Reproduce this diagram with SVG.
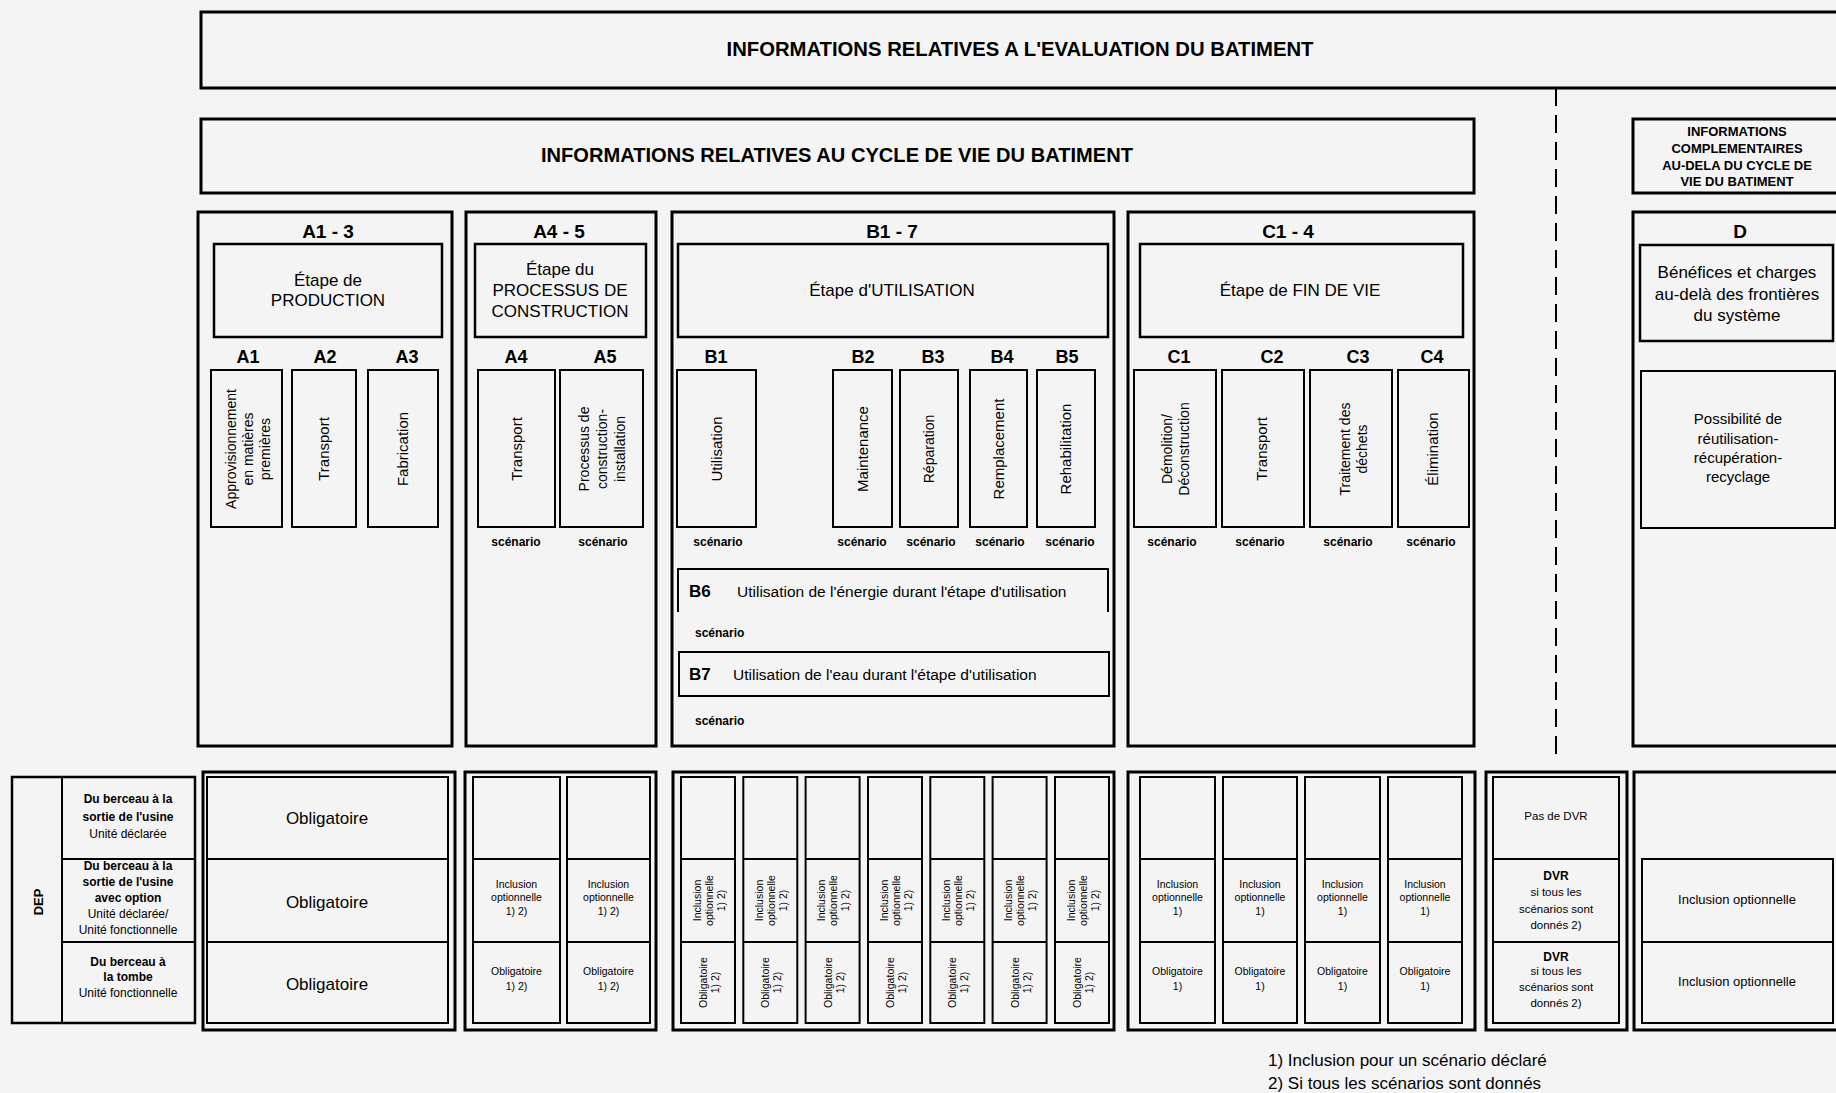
<svg xmlns="http://www.w3.org/2000/svg" width="1836" height="1093" viewBox="0 0 1836 1093">
<style>
text{font-family:"Liberation Sans",Arial,sans-serif;fill:#000}
.b3{fill:none;stroke:#000;stroke-width:3}
.b25{fill:none;stroke:#000;stroke-width:2.5}
.b2{fill:none;stroke:#000;stroke-width:2}
.ttl{font-size:19.5px;font-weight:bold;text-anchor:middle}
.inf{font-size:13px;font-weight:bold;text-anchor:middle}
.hd{font-size:19px;font-weight:bold;text-anchor:middle}
.lb{font-size:18px;font-weight:bold;text-anchor:middle}
.st{font-size:17px;text-anchor:middle}
.vt{font-size:15px;text-anchor:middle}
.vs{font-size:14px;text-anchor:middle}
.sc{font-size:12px;font-weight:bold;text-anchor:middle}
.scl{font-size:12px;font-weight:bold}
.bl{font-size:17px;font-weight:bold}
.bt{font-size:15.5px}
.ob{font-size:17px;text-anchor:middle}
.sm{font-size:10.5px;text-anchor:middle}
.dv{font-size:11.5px;text-anchor:middle}
.dvb{font-size:12px;font-weight:bold;text-anchor:middle}
.dep{font-size:12px;text-anchor:middle}
.depb{font-size:12px;font-weight:bold;text-anchor:middle}
.io{font-size:13px;text-anchor:middle}
.fn{font-size:17px}
</style>
<rect x="0" y="0" width="1836" height="1093" fill="#f4f4f4"/>

<g id="connectors">
<line x1="1556" y1="88" x2="1556" y2="762" stroke="#000" stroke-width="2" stroke-dasharray="18 9"/>
</g>

<g id="eval-header">
<rect class="b3" x="201" y="12" width="1650" height="76"/>
<text class="ttl" x="1020" y="56" textLength="587" lengthAdjust="spacingAndGlyphs">INFORMATIONS RELATIVES A L'EVALUATION DU BATIMENT</text>
</g>

<g id="lifecycle-header">
<rect class="b3" x="201" y="119" width="1273" height="74"/>
<text class="ttl" x="837" y="162" textLength="592" lengthAdjust="spacingAndGlyphs">INFORMATIONS RELATIVES AU CYCLE DE VIE DU BATIMENT</text>
</g>

<g id="complementary-header">
<rect class="b3" x="1633" y="119" width="212" height="74"/>
<text class="inf" x="1737" y="136">INFORMATIONS</text>
<text class="inf" x="1737" y="153">COMPLEMENTAIRES</text>
<text class="inf" x="1737" y="170">AU-DELA DU CYCLE DE</text>
<text class="inf" x="1737" y="186">VIE DU BATIMENT</text>
</g>

<!-- A1-3 -->
<g id="stage-A1-3">
<rect class="b3" x="198" y="212" width="254" height="534"/>
<text class="hd" x="328" y="238">A1 - 3</text>
<rect class="b25" x="214" y="244" width="228" height="93"/>
<text class="st" x="328" y="286">Étape de</text>
<text class="st" x="328" y="306">PRODUCTION</text>
<text class="lb" x="248" y="363">A1</text>
<text class="lb" x="325" y="363">A2</text>
<text class="lb" x="407" y="363">A3</text>
<rect class="b2" x="211" y="370" width="71" height="157"/>
<rect class="b2" x="292" y="370" width="64" height="157"/>
<rect class="b2" x="368" y="370" width="70" height="157"/>
<text class="vs" transform="translate(248,449) rotate(-90)"><tspan x="0" y="-12">Approvisionnement</tspan><tspan x="0" y="5">en matières</tspan><tspan x="0" y="22">premières</tspan></text>
<text class="vt" transform="translate(324,449) rotate(-90)"><tspan x="0" y="5">Transport</tspan></text>
<text class="vt" transform="translate(403,449) rotate(-90)"><tspan x="0" y="5">Fabrication</tspan></text>
</g>

<!-- A4-5 -->
<g id="stage-A4-5">
<rect class="b3" x="466" y="212" width="190" height="534"/>
<text class="hd" x="559" y="238">A4 - 5</text>
<rect class="b25" x="475" y="244" width="171" height="93"/>
<text class="st" x="560" y="275">Étape du</text>
<text class="st" x="560" y="296">PROCESSUS DE</text>
<text class="st" x="560" y="317">CONSTRUCTION</text>
<text class="lb" x="516" y="363">A4</text>
<text class="lb" x="605" y="363">A5</text>
<rect class="b2" x="478" y="370" width="77" height="157"/>
<rect class="b2" x="560" y="370" width="83" height="157"/>
<text class="vt" transform="translate(516.5,449) rotate(-90)"><tspan x="0" y="5">Transport</tspan></text>
<text class="vs" transform="translate(602,449) rotate(-90)"><tspan x="0" y="-13">Processus de</tspan><tspan x="0" y="5">construction-</tspan><tspan x="0" y="23">installation</tspan></text>
<text class="sc" x="516" y="546">scénario</text>
<text class="sc" x="603" y="546">scénario</text>
</g>

<!-- B1-7 -->
<g id="stage-B1-7">
<rect class="b3" x="672" y="212" width="442" height="534"/>
<text class="hd" x="892" y="238">B1 - 7</text>
<rect class="b25" x="678" y="244" width="430" height="93"/>
<text class="st" x="892" y="296">Étape d'UTILISATION</text>
<text class="lb" x="716" y="363">B1</text>
<text class="lb" x="863" y="363">B2</text>
<text class="lb" x="933" y="363">B3</text>
<text class="lb" x="1002" y="363">B4</text>
<text class="lb" x="1067" y="363">B5</text>
<rect class="b2" x="677" y="370" width="79" height="157"/>
<rect class="b2" x="833" y="370" width="59" height="157"/>
<rect class="b2" x="900" y="370" width="58" height="157"/>
<rect class="b2" x="970" y="370" width="57" height="157"/>
<rect class="b2" x="1037" y="370" width="58" height="157"/>
<text class="vt" transform="translate(716.5,449) rotate(-90)"><tspan x="0" y="5">Utilisation</tspan></text>
<text class="vt" transform="translate(862.5,449) rotate(-90)"><tspan x="0" y="5">Maintenance</tspan></text>
<text class="vs" transform="translate(929,449) rotate(-90)"><tspan x="0" y="5">Réparation</tspan></text>
<text class="vt" transform="translate(998.5,449) rotate(-90)"><tspan x="0" y="5">Remplacement</tspan></text>
<text class="vt" transform="translate(1066,449) rotate(-90)"><tspan x="0" y="5">Rehabilitation</tspan></text>
<text class="sc" x="718" y="546">scénario</text>
<text class="sc" x="862" y="546">scénario</text>
<text class="sc" x="931" y="546">scénario</text>
<text class="sc" x="1000" y="546">scénario</text>
<text class="sc" x="1070" y="546">scénario</text>
<path class="b2" d="M678,612 V569 H1108 V612"/>
<text class="bl" x="689" y="597">B6</text>
<text class="bt" x="737" y="597">Utilisation de l'énergie durant l'étape d'utilisation</text>
<text class="scl" x="695" y="637">scénario</text>
<rect class="b2" x="679" y="652" width="430" height="44"/>
<text class="bl" x="689" y="680">B7</text>
<text class="bt" x="733" y="680">Utilisation de l'eau durant l'étape d'utilisation</text>
<text class="scl" x="695" y="725">scénario</text>
</g>

<!-- C1-4 -->
<g id="stage-C1-4">
<rect class="b3" x="1128" y="212" width="346" height="534"/>
<text class="hd" x="1288" y="238">C1 - 4</text>
<rect class="b25" x="1140" y="244" width="323" height="93"/>
<text class="st" x="1300" y="296">Étape de FIN DE VIE</text>
<text class="lb" x="1179" y="363">C1</text>
<text class="lb" x="1272" y="363">C2</text>
<text class="lb" x="1358" y="363">C3</text>
<text class="lb" x="1432" y="363">C4</text>
<rect class="b2" x="1134" y="370" width="82" height="157"/>
<rect class="b2" x="1222" y="370" width="82" height="157"/>
<rect class="b2" x="1310" y="370" width="82" height="157"/>
<rect class="b2" x="1398" y="370" width="71" height="157"/>
<text class="vs" transform="translate(1176,449) rotate(-90)"><tspan x="0" y="-4">Démolition/</tspan><tspan x="0" y="13">Déconstruction</tspan></text>
<text class="vt" transform="translate(1262,449) rotate(-90)"><tspan x="0" y="5">Transport</tspan></text>
<text class="vs" transform="translate(1354,449) rotate(-90)"><tspan x="0" y="-4">Traitement des</tspan><tspan x="0" y="13">déchets</tspan></text>
<text class="vt" transform="translate(1433,449) rotate(-90)"><tspan x="0" y="5">Élimination</tspan></text>
<text class="sc" x="1172" y="546">scénario</text>
<text class="sc" x="1260" y="546">scénario</text>
<text class="sc" x="1348" y="546">scénario</text>
<text class="sc" x="1431" y="546">scénario</text>
</g>

<!-- D -->
<g id="stage-D">
<rect class="b3" x="1633" y="212" width="212" height="534"/>
<text class="hd" x="1740" y="238">D</text>
<rect class="b25" x="1640" y="245" width="193" height="96"/>
<text class="st" x="1737" y="278">Bénéfices et charges</text>
<text class="st" x="1737" y="300">au-delà des frontières</text>
<text class="st" x="1737" y="321">du système</text>
<rect class="b2" x="1641" y="371" width="194" height="157"/>
<text class="vt" x="1738" y="424">Possibilité de</text>
<text class="vt" x="1738" y="444">réutilisation-</text>
<text class="vt" x="1738" y="463">récupération-</text>
<text class="vt" x="1738" y="482">recyclage</text>
</g>

<!-- DEP table -->
<g id="dep-labels">
<rect class="b25" x="12" y="777" width="183" height="246"/>
<line class="b2" x1="62" y1="777" x2="62" y2="1023"/>
<line class="b2" x1="62" y1="859" x2="195" y2="859"/>
<line class="b2" x1="62" y1="942" x2="195" y2="942"/>
<text class="depb" transform="translate(38,902) rotate(-90)" style="font-size:13px"><tspan x="0" y="5">DEP</tspan></text>
<text class="depb" x="128" y="803">Du berceau à la</text>
<text class="depb" x="128" y="821">sortie de l'usine</text>
<text class="dep" x="128" y="838">Unité déclarée</text>
<text class="depb" x="128" y="870">Du berceau à la</text>
<text class="depb" x="128" y="886">sortie de l'usine</text>
<text class="depb" x="128" y="902">avec option</text>
<text class="dep" x="128" y="918">Unité déclarée/</text>
<text class="dep" x="128" y="934">Unité fonctionnelle</text>
<text class="depb" x="128" y="966">Du berceau à</text>
<text class="depb" x="128" y="981">la tombe</text>
<text class="dep" x="128" y="997">Unité fonctionnelle</text>
</g>

<g id="dep-A1-3">
<rect class="b3" x="203" y="772" width="252" height="258"/>
<rect class="b2" x="207" y="777" width="241" height="246"/>
<line class="b2" x1="207" y1="859" x2="448" y2="859"/>
<line class="b2" x1="207" y1="942" x2="448" y2="942"/>
<text class="ob" x="327" y="824">Obligatoire</text>
<text class="ob" x="327" y="908">Obligatoire</text>
<text class="ob" x="327" y="990">Obligatoire</text>
</g>

<g id="dep-A4-5">
<rect class="b3" x="465" y="772" width="191" height="258"/>
<rect class="b2" x="473" y="777" width="87" height="246"/>
<rect class="b2" x="567" y="777" width="83" height="246"/>
<line class="b2" x1="473" y1="859" x2="560" y2="859"/>
<line class="b2" x1="473" y1="942" x2="560" y2="942"/>
<line class="b2" x1="567" y1="859" x2="650" y2="859"/>
<line class="b2" x1="567" y1="942" x2="650" y2="942"/>
<text class="sm" x="516.5" y="888">Inclusion</text>
<text class="sm" x="516.5" y="901">optionnelle</text>
<text class="sm" x="516.5" y="915">1) 2)</text>
<text class="sm" x="608.5" y="888">Inclusion</text>
<text class="sm" x="608.5" y="901">optionnelle</text>
<text class="sm" x="608.5" y="915">1) 2)</text>
<text class="sm" x="516.5" y="975">Obligatoire</text>
<text class="sm" x="516.5" y="990">1) 2)</text>
<text class="sm" x="608.5" y="975">Obligatoire</text>
<text class="sm" x="608.5" y="990">1) 2)</text>
</g>

<g id="dep-B1-7">
<rect class="b3" x="673" y="772" width="441" height="258"/>
<rect class="b2" x="681" y="777" width="54" height="246"/>
<rect class="b2" x="743.3" y="777" width="54" height="246"/>
<rect class="b2" x="805.6" y="777" width="54" height="246"/>
<rect class="b2" x="868" y="777" width="54" height="246"/>
<rect class="b2" x="930.3" y="777" width="54" height="246"/>
<rect class="b2" x="992.6" y="777" width="54" height="246"/>
<rect class="b2" x="1055" y="777" width="54" height="246"/>
<path class="b2" d="M681,859 h54 M743.3,859 h54 M805.6,859 h54 M868,859 h54 M930.3,859 h54 M992.6,859 h54 M1055,859 h54 M681,942 h54 M743.3,942 h54 M805.6,942 h54 M868,942 h54 M930.3,942 h54 M992.6,942 h54 M1055,942 h54"/>
<text class="sm" transform="translate(708,900.5) rotate(-90)"><tspan x="0" y="-7.5">Inclusion</tspan><tspan x="0" y="4.5">optionnelle</tspan><tspan x="0" y="16.5">1) 2)</tspan></text>
<text class="sm" transform="translate(770.3,900.5) rotate(-90)"><tspan x="0" y="-7.5">Inclusion</tspan><tspan x="0" y="4.5">optionnelle</tspan><tspan x="0" y="16.5">1) 2)</tspan></text>
<text class="sm" transform="translate(832.6,900.5) rotate(-90)"><tspan x="0" y="-7.5">Inclusion</tspan><tspan x="0" y="4.5">optionnelle</tspan><tspan x="0" y="16.5">1) 2)</tspan></text>
<text class="sm" transform="translate(895,900.5) rotate(-90)"><tspan x="0" y="-7.5">Inclusion</tspan><tspan x="0" y="4.5">optionnelle</tspan><tspan x="0" y="16.5">1) 2)</tspan></text>
<text class="sm" transform="translate(957.3,900.5) rotate(-90)"><tspan x="0" y="-7.5">Inclusion</tspan><tspan x="0" y="4.5">optionnelle</tspan><tspan x="0" y="16.5">1) 2)</tspan></text>
<text class="sm" transform="translate(1019.6,900.5) rotate(-90)"><tspan x="0" y="-7.5">Inclusion</tspan><tspan x="0" y="4.5">optionnelle</tspan><tspan x="0" y="16.5">1) 2)</tspan></text>
<text class="sm" transform="translate(1082,900.5) rotate(-90)"><tspan x="0" y="-7.5">Inclusion</tspan><tspan x="0" y="4.5">optionnelle</tspan><tspan x="0" y="16.5">1) 2)</tspan></text>
<text class="sm" transform="translate(708,982.5) rotate(-90)"><tspan x="0" y="-1">Obligatoire</tspan><tspan x="0" y="11">1) 2)</tspan></text>
<text class="sm" transform="translate(770.3,982.5) rotate(-90)"><tspan x="0" y="-1">Obligatoire</tspan><tspan x="0" y="11">1) 2)</tspan></text>
<text class="sm" transform="translate(832.6,982.5) rotate(-90)"><tspan x="0" y="-1">Obligatoire</tspan><tspan x="0" y="11">1) 2)</tspan></text>
<text class="sm" transform="translate(895,982.5) rotate(-90)"><tspan x="0" y="-1">Obligatoire</tspan><tspan x="0" y="11">1) 2)</tspan></text>
<text class="sm" transform="translate(957.3,982.5) rotate(-90)"><tspan x="0" y="-1">Obligatoire</tspan><tspan x="0" y="11">1) 2)</tspan></text>
<text class="sm" transform="translate(1019.6,982.5) rotate(-90)"><tspan x="0" y="-1">Obligatoire</tspan><tspan x="0" y="11">1) 2)</tspan></text>
<text class="sm" transform="translate(1082,982.5) rotate(-90)"><tspan x="0" y="-1">Obligatoire</tspan><tspan x="0" y="11">1) 2)</tspan></text>
</g>

<g id="dep-C1-4">
<rect class="b3" x="1128" y="772" width="347" height="258"/>
<rect class="b2" x="1140" y="777" width="75" height="246"/>
<rect class="b2" x="1223" y="777" width="74" height="246"/>
<rect class="b2" x="1305" y="777" width="75" height="246"/>
<rect class="b2" x="1388" y="777" width="74" height="246"/>
<path class="b2" d="M1140,859 h75 M1223,859 h74 M1305,859 h75 M1388,859 h74 M1140,942 h75 M1223,942 h74 M1305,942 h75 M1388,942 h74"/>
<text class="sm" x="1177.5" y="888">Inclusion</text><text class="sm" x="1177.5" y="901">optionnelle</text><text class="sm" x="1177.5" y="915">1)</text>
<text class="sm" x="1260" y="888">Inclusion</text><text class="sm" x="1260" y="901">optionnelle</text><text class="sm" x="1260" y="915">1)</text>
<text class="sm" x="1342.5" y="888">Inclusion</text><text class="sm" x="1342.5" y="901">optionnelle</text><text class="sm" x="1342.5" y="915">1)</text>
<text class="sm" x="1425" y="888">Inclusion</text><text class="sm" x="1425" y="901">optionnelle</text><text class="sm" x="1425" y="915">1)</text>
<text class="sm" x="1177.5" y="975">Obligatoire</text><text class="sm" x="1177.5" y="990">1)</text>
<text class="sm" x="1260" y="975">Obligatoire</text><text class="sm" x="1260" y="990">1)</text>
<text class="sm" x="1342.5" y="975">Obligatoire</text><text class="sm" x="1342.5" y="990">1)</text>
<text class="sm" x="1425" y="975">Obligatoire</text><text class="sm" x="1425" y="990">1)</text>
</g>

<g id="dep-DVR">
<rect class="b3" x="1486" y="772" width="141" height="258"/>
<rect class="b2" x="1493" y="777" width="126" height="246"/>
<line class="b2" x1="1493" y1="859" x2="1619" y2="859"/>
<line class="b2" x1="1493" y1="942" x2="1619" y2="942"/>
<text class="dv" x="1556" y="820">Pas de DVR</text>
<text class="dvb" x="1556" y="880">DVR</text>
<text class="dv" x="1556" y="896">si tous les</text>
<text class="dv" x="1556" y="913">scénarios sont</text>
<text class="dv" x="1556" y="929">donnés 2)</text>
<text class="dvb" x="1556" y="961">DVR</text>
<text class="dv" x="1556" y="975">si tous les</text>
<text class="dv" x="1556" y="991">scénarios sont</text>
<text class="dv" x="1556" y="1007">donnés 2)</text>
</g>

<g id="dep-D">
<rect class="b3" x="1634" y="772" width="212" height="258"/>
<rect class="b2" x="1642" y="859" width="191" height="164"/>
<line class="b2" x1="1642" y1="942" x2="1833" y2="942"/>
<text class="io" x="1737" y="904">Inclusion optionnelle</text>
<text class="io" x="1737" y="986">Inclusion optionnelle</text>
</g>

<g id="footnotes">
<text class="fn" x="1268" y="1066">1) Inclusion pour un scénario déclaré</text>
<text class="fn" x="1268" y="1089">2) Si tous les scénarios sont donnés</text>
</g>
</svg>
